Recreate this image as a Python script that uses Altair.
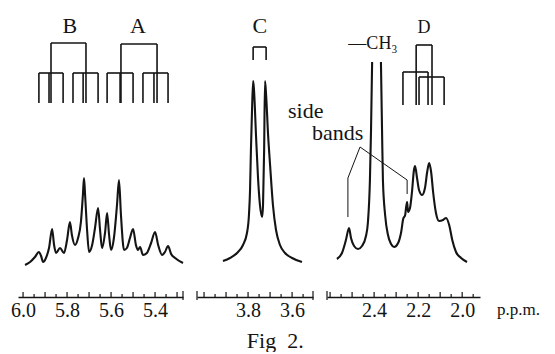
import altair as alt
import pandas as pd

FONT = "Liberation Serif"
INK = "#141414"

# ---------------- spectrum traces (ppm, arbitrary intensity) ----------------
# Panel 1: olefinic protons A / B
p1_ppm = [5.991, 5.968, 5.946, 5.928, 5.918, 5.909, 5.896, 5.882, 5.868, 5.859, 5.850,
          5.832, 5.814, 5.800, 5.787, 5.778, 5.764, 5.750, 5.737, 5.728, 5.723, 5.718,
          5.709, 5.700, 5.686, 5.673, 5.659, 5.650, 5.641, 5.627, 5.618, 5.609, 5.600,
          5.587, 5.573, 5.564, 5.555, 5.541, 5.528, 5.514, 5.500, 5.487, 5.478, 5.468,
          5.455, 5.437, 5.418, 5.400, 5.386, 5.368, 5.355, 5.341, 5.327, 5.309, 5.273]
p1_int = [-1, 2, 7, 12, 8, 2, 6, 16, 35, 19, 11,
          16, 11, 24, 42, 29, 19, 26, 42, 69, 86, 69,
          34, 12, 19, 36, 56, 34, 16, 32, 51, 29, 14,
          26, 59, 84, 49, 14, 16, 26, 35, 19, 14, 17,
          9, 11, 21, 32, 19, 9, 12, 18, 10, 6, 1]

# Panel 2: doublet C
p2_ppm = [3.914, 3.882, 3.850, 3.823, 3.805, 3.796, 3.791, 3.787, 3.782, 3.777, 3.773,
          3.764, 3.755, 3.746, 3.736, 3.732, 3.727, 3.723, 3.718, 3.709, 3.700, 3.687,
          3.673, 3.655, 3.632, 3.600, 3.555]
p2_int = [3, 6, 11, 19, 31, 49, 74, 114, 154, 183, 174,
          129, 87, 59, 47, 59, 114, 183, 169, 129, 99, 59,
          34, 19, 11, 6, 2]

# Panel 3: -CH3 (off scale) and multiplet D ; two traces because the CH3 peak runs off the paper
p3a_ppm = [2.569, 2.546, 2.528, 2.514, 2.505, 2.491, 2.473, 2.455, 2.437, 2.428, 2.419, 2.414, 2.409]
p3a_int = [5, 11, 24, 36, 26, 18, 15, 18, 28, 42, 84, 134, 202]
p3b_ppm = [2.369, 2.364, 2.360, 2.350, 2.337, 2.323, 2.309, 2.291, 2.277, 2.268, 2.259, 2.255,
           2.250, 2.246, 2.237, 2.228, 2.219, 2.214, 2.205, 2.196, 2.182, 2.169, 2.159, 2.150,
           2.141, 2.132, 2.119, 2.105, 2.087, 2.073, 2.059, 2.045, 2.028, 2.005, 1.978]
p3b_int = [202, 134, 84, 49, 29, 20, 17, 21, 32, 45, 49, 56,
           62, 52, 56, 72, 94, 98, 86, 74, 69, 76, 92, 101,
           92, 72, 51, 43, 44, 46, 39, 24, 12, 6, 2]

# ---------------- axes ----------------
p1_domain = [6.023, 5.273]
p2_domain = [4.032, 3.505]
p3_domain = [2.614, 1.919]
p1_labels = [6.0, 5.8, 5.6, 5.4]
p2_labels = [3.8, 3.6]
p3_labels = [2.4, 2.2, 2.0]
p1_major = [6.0, 5.9, 5.8, 5.7, 5.6, 5.5, 5.4, 5.3]
p1_minor = [5.95, 5.85, 5.75, 5.65, 5.55, 5.45, 5.35]
p2_major = [4.0, 3.9, 3.8, 3.7, 3.6]
p2_minor = [3.95, 3.85, 3.75, 3.65, 3.55]
p3_major = [2.6, 2.5, 2.4, 2.3, 2.2, 2.1, 2.0]
p3_minor = [2.55, 2.45, 2.35, 2.25, 2.15, 2.05, 1.95]
p1_ends = [5.273]
p2_ends = [4.032, 3.505]
p3_ends = [2.614]

# ---------------- splitting diagrams (x, x2, y, y2) ----------------
b_sticks = [(5.873, 5.714, 221, 221), (5.873, 5.873, 221, 161), (5.714, 5.714, 221, 161),
            (5.928, 5.818, 191, 191), (5.773, 5.659, 191, 191),
            (5.928, 5.928, 191, 161), (5.882, 5.882, 191, 161), (5.818, 5.818, 191, 161),
            (5.773, 5.773, 191, 161), (5.727, 5.727, 191, 161), (5.659, 5.659, 191, 161)]
a_sticks = [(5.555, 5.391, 220, 220), (5.555, 5.555, 220, 161), (5.391, 5.391, 220, 161),
            (5.618, 5.500, 191, 191), (5.455, 5.341, 191, 191),
            (5.618, 5.618, 191, 161), (5.559, 5.559, 191, 161), (5.500, 5.500, 191, 161),
            (5.455, 5.455, 191, 161), (5.405, 5.405, 191, 161), (5.341, 5.341, 191, 161)]
c_sticks = [(3.777, 3.718, 217, 217), (3.777, 3.777, 217, 204), (3.718, 3.718, 217, 204)]
d_sticks = [(2.209, 2.137, 219, 219), (2.209, 2.209, 219, 159), (2.137, 2.137, 219, 159),
            (2.269, 2.155, 192, 192), (2.269, 2.269, 192, 159), (2.155, 2.155, 192, 159),
            (2.196, 2.082, 187, 187), (2.196, 2.196, 187, 159), (2.082, 2.082, 187, 159)]
sideband_lines = [(2.464, 2.519, 117, 86), (2.519, 2.519, 86, 47),
                  (2.464, 2.250, 117, 84), (2.250, 2.250, 84, 70)]

# ---------------- text annotations (ppm, intensity, text) ----------------
p1_big_text = [(5.787, 238, "B"), (5.478, 238, "A")]
p2_big_text = [(3.746, 238, "C")]
p3_small_text = [(2.173, 236, "D"), (2.405, 220, "\u2014CH\u2083")]
p3_side_text = [(2.791, 146, "side"), (2.682, 124, "bands")]
p3_unit_text = [(1.842, -46, "p.p.m.")]
caption = "Fig\u00a0\u00a02."

Y_DOMAIN = [-33, 256]
AXIS_LEVEL = -33
YS = alt.Scale(domain=Y_DOMAIN, nice=False, zero=False)
H = 289
PX_PER_PPM = 220


def seg_df(rows):
    return pd.DataFrame(rows, columns=["x", "x2", "y", "y2"])


def text_df(rows):
    return pd.DataFrame(rows, columns=["x", "y", "t"])


def panel(domain, labels, curves, major, minor, ends, sticks, thin, texts):
    width = round(abs(domain[0] - domain[1]) * PX_PER_PPM)
    xs = alt.Scale(domain=domain, nice=False, zero=False)
    ax = alt.Axis(values=labels, format=".1f", labelFont=FONT, labelFontSize=20, labelColor=INK,
                  labelPadding=3, tickSize=0, ticks=False, domainColor=INK, domainWidth=1.3,
                  grid=False, title=None, labelFlush=False, labelOverlap=False)
    layers = []
    cdf = pd.concat([pd.DataFrame({"x": p, "y": i, "seg": k})
                     for k, (p, i) in enumerate(curves)])
    layers.append(alt.Chart(cdf).mark_line(color=INK, strokeWidth=2.1, interpolate="monotone").encode(
        x=alt.X("x:Q", scale=xs, axis=ax),
        y=alt.Y("y:Q", scale=YS, axis=None),
        detail="seg:N"))
    tick_rows = [(v, v, AXIS_LEVEL, AXIS_LEVEL + 5) for v in major] + \
                [(v, v, AXIS_LEVEL, AXIS_LEVEL + 3) for v in minor] + \
                [(v, v, AXIS_LEVEL + 6, AXIS_LEVEL - 3) for v in ends]
    layers.append(alt.Chart(seg_df(tick_rows)).mark_rule(color=INK, strokeWidth=1.2).encode(
        x=alt.X("x:Q", scale=xs, axis=ax), x2="x2:Q",
        y=alt.Y("y:Q", scale=YS, axis=None), y2="y2:Q"))
    if sticks:
        layers.append(alt.Chart(seg_df(sticks)).mark_rule(color=INK, strokeWidth=1.6).encode(
            x=alt.X("x:Q", scale=xs, axis=ax), x2="x2:Q",
            y=alt.Y("y:Q", scale=YS, axis=None), y2="y2:Q"))
    if thin:
        layers.append(alt.Chart(seg_df(thin)).mark_rule(color=INK, strokeWidth=1).encode(
            x=alt.X("x:Q", scale=xs, axis=ax), x2="x2:Q",
            y=alt.Y("y:Q", scale=YS, axis=None), y2="y2:Q"))
    for rows, size, align, baseline in texts:
        layers.append(alt.Chart(text_df(rows)).mark_text(
            font=FONT, fontSize=size, color=INK, align=align, baseline=baseline).encode(
            x=alt.X("x:Q", scale=xs, axis=ax),
            y=alt.Y("y:Q", scale=YS, axis=None),
            text="t:N"))
    return alt.layer(*layers).properties(width=width, height=H)


panel1 = panel(p1_domain, p1_labels, [(p1_ppm, p1_int)], p1_major, p1_minor, p1_ends,
               b_sticks + a_sticks, None, [(p1_big_text, 22, "center", "middle")])
panel2 = panel(p2_domain, p2_labels, [(p2_ppm, p2_int)], p2_major, p2_minor, p2_ends,
               c_sticks, None, [(p2_big_text, 22, "center", "middle")])
panel3 = panel(p3_domain, p3_labels, [(p3a_ppm, p3a_int), (p3b_ppm, p3b_int)], p3_major, p3_minor,
               p3_ends, d_sticks, sideband_lines,
               [(p3_small_text, 18, "center", "middle"),
                (p3_side_text, 22, "left", "alphabetic"),
                (p3_unit_text, 17, "left", "middle")])

chart = alt.hconcat(panel1, panel2, panel3, spacing=14, bounds="flush").properties(
    padding={"left": 2, "top": 0, "right": 0, "bottom": 0},
    background="white",
    title=alt.TitleParams(caption, orient="bottom", anchor="middle", font=FONT, fontSize=22,
                          fontWeight="normal", color=INK, dx=0, offset=11),
).configure_view(stroke=None)

chart.save("out.html", embed_options={"renderer": "svg", "actions": False})
